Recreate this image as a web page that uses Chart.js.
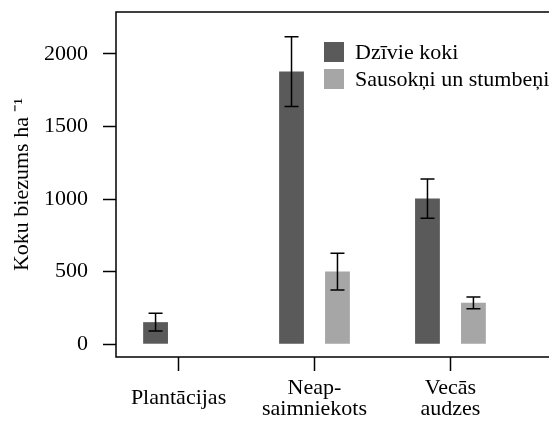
<!DOCTYPE html>
<html>
<head>
<meta charset="utf-8">
<script src="https://cdn.jsdelivr.net/npm/chart.js@4.4.1/dist/chart.umd.min.js"></script>
<style>
  html, body { margin: 0; padding: 0; overflow: hidden; background: #fff; }
  #wrap { width: 600px; height: 421px; }
</style>
</head>
<body>
<div id="wrap"><canvas id="chart"></canvas></div>
<script>
// data
const categories = [['Plantācijas'], ['Neap-', 'saimniekots'], ['Vecās', 'audzes']];
const liveTrees = [152, 1878, 1003];
const liveTreesErr = [61, 240, 135];
const deadTrees = [null, 500, 285];
const deadTreesErr = [null, 127, 40];
const seriesNames = ['Dzīvie koki', 'Sausokņi un stumbeņi'];
const yTickValues = [0, 500, 1000, 1500, 2000];

const serif = "'Liberation Serif', 'Times New Roman', serif";
const toPoints = (vals) => vals.map((v, i) => ({ x: i + 1, y: v }));

// error bars, drawn from the bar elements and the y scale
const errorBars = {
    id: 'errorBars',
    afterDatasetsDraw(chart) {
        const ctx = chart.ctx;
        const yScale = chart.scales.y;
        ctx.save();
        ctx.strokeStyle = '#000';
        ctx.lineWidth = 1.5;
        chart.data.datasets.forEach((ds, di) => {
            const meta = chart.getDatasetMeta(di);
            meta.data.forEach((bar, i) => {
                const v = ds.data[i].y, e = ds.errors[i];
                if (v == null || e == null) return;
                const top = yScale.getPixelForValue(v + e);
                const bot = yScale.getPixelForValue(v - e);
                const x = bar.x, w = 7;
                ctx.beginPath();
                ctx.moveTo(x, top); ctx.lineTo(x, bot);
                ctx.moveTo(x - w, top); ctx.lineTo(x + w, top);
                ctx.moveTo(x - w, bot); ctx.lineTo(x + w, bot);
                ctx.stroke();
            });
        });
        ctx.restore();
    }
};

// box round the plot and the legend inside it
const frameAndLegend = {
    id: 'frameAndLegend',
    afterDraw(chart) {
        const ctx = chart.ctx;
        const a = chart.chartArea;
        ctx.save();
        ctx.strokeStyle = '#000';
        ctx.lineWidth = 1.5;
        ctx.strokeRect(a.left, a.top, a.right - a.left, a.bottom - a.top);

        ctx.font = '22px ' + serif;
        ctx.textBaseline = 'middle';
        ctx.textAlign = 'left';
        chart.data.datasets.forEach((ds, i) => {
            const y = 42 + i * 27;
            ctx.fillStyle = ds.backgroundColor;
            ctx.fillRect(324, y, 20, 20);
            ctx.fillStyle = '#000';
            ctx.fillText(ds.label, 355, y + 11);
        });
        ctx.restore();
    }
};

const noPad = (s) => { s.paddingTop = 0; s.paddingBottom = 0; s.paddingLeft = 0; s.paddingRight = 0; };

new Chart(document.getElementById('chart'), {
    type: 'bar',
    data: {
        datasets: [
            { label: seriesNames[0], data: toPoints(liveTrees), errors: liveTreesErr, backgroundColor: '#5a5a5a' },
            { label: seriesNames[1], data: toPoints(deadTrees), errors: deadTreesErr, backgroundColor: '#a6a6a6' }
        ]
    },
    options: {
        responsive: true,
        maintainAspectRatio: false,
        animation: false,
        categoryPercentage: 0.676,
        barPercentage: 0.54,
        layout: { padding: { top: 12, left: 0, right: 0, bottom: 0 } },
        plugins: {
            legend: { display: false },
            tooltip: { enabled: false }
        },
        scales: {
            x: {
                type: 'linear',
                min: 0.54,
                max: 4.1,
                offset: false,
                afterBuildTicks: (s) => { s.ticks = categories.map((c, i) => ({ value: i + 1 })); },
                afterFit: (s) => { s.height = 64; noPad(s); },
                grid: { offset: false, drawOnChartArea: false, tickLength: 14, tickColor: '#000', tickWidth: 1.5 },
                border: { display: false },
                ticks: {
                    autoSkip: false,
                    maxRotation: 0,
                    padding: 17,
                    crossAlign: 'center',
                    color: '#000',
                    font: { family: serif, size: 22, lineHeight: 0.96 },
                    callback: (v) => categories[v - 1]
                }
            },
            y: {
                min: -88,
                max: 2288,
                afterBuildTicks: (s) => { s.ticks = yTickValues.map(v => ({ value: v })); },
                afterFit: (s) => { s.width = 116; noPad(s); },
                grid: { drawOnChartArea: false, tickLength: 13, tickColor: '#000', tickWidth: 1.5 },
                border: { display: false },
                ticks: {
                    padding: 15,
                    color: '#000',
                    font: { family: serif, size: 22 },
                    callback: (v) => String(v)
                },
                title: {
                    display: true,
                    text: 'Koku biezums ha \u207B\u00B9',
                    color: '#000',
                    font: { family: serif, size: 22 },
                    padding: { top: 9, bottom: 0 }
                }
            }
        }
    },
    plugins: [errorBars, frameAndLegend]
});
</script>
</body>
</html>
